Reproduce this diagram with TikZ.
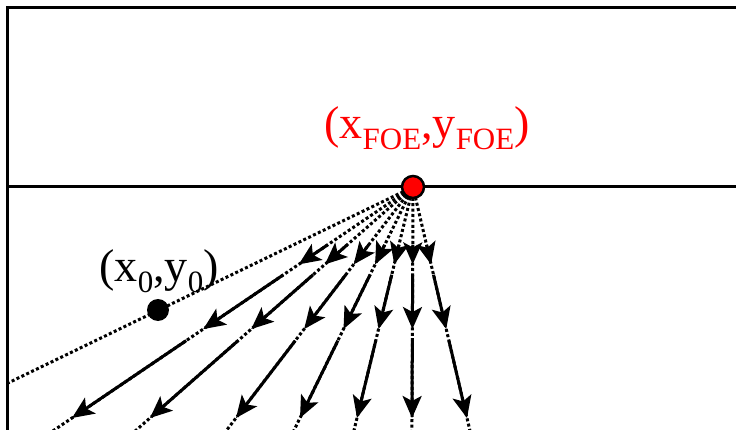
\documentclass[tikz,border=0pt]{standalone}
\usepackage{fontspec}
\setmainfont{Liberation Serif}
\usetikzlibrary{arrows.meta,calc}
\newcommand{\lowsub}[1]{\raisebox{-11pt}{\fontsize{31}{34}\selectfont #1}}
\begin{document}
\begin{tikzpicture}[
    x=1pt, y=-1pt,
    frameline/.style={line width=3pt},
    ray/.style={line width=3pt, dash pattern=on 3pt off 2.4pt},
    flow/.style={-{Stealth[length=22pt, width=19pt, inset=5pt]}, line width=3pt},
    foedot/.style={circle, draw, line width=2.5pt, fill=red, inner sep=0pt, minimum size=22pt},
    ptdot/.style={circle, fill=black, inner sep=0pt, minimum size=22pt},
    lbl/.style={font=\fontsize{46}{50}\selectfont, inner sep=0pt, anchor=base},
]
    \useasboundingbox (0,0) rectangle (736,430);
    \clip (0,0) rectangle (736,430);

    % Image frame and horizon
    \draw[frameline] (7,8) rectangle (800,500);
    \coordinate (hl) at (7,187);
    \coordinate (hr) at (800,187);
    \draw[frameline] (hl) -- (hr);

    % Focus of expansion
    \coordinate (foe) at (413,187);

    % Ray through the tracked point
    \coordinate (edge) at (8,383);
    \draw[ray] (foe) -- (edge);

    % Flow rays with displacement arrows
    \foreach \bx [count=\i] in {-341,-263,-177,-113,-56,-1,54} {
        \coordinate (end\i) at ($(foe)+(\bx,231)$);
        \coordinate (far\i) at ($(foe)!1.12!(end\i)$);
        \coordinate (a\i) at ($(foe)!0.25!(end\i)$);
        \coordinate (b\i) at ($(foe)!0.335!(end\i)$);
        \coordinate (c\i) at ($(foe)!0.38!(end\i)$);
        \coordinate (d\i) at ($(foe)!0.615!(end\i)$);
        \coordinate (e\i) at ($(foe)!0.665!(end\i)$);
        \draw[ray] (foe) -- (far\i);
        \draw[flow] (a\i) -- (b\i);
        \draw[flow] (c\i) -- (d\i);
        \draw[flow] (e\i) -- (end\i);
    }

    \node[foedot] (foedot) at (foe) {};
    \node[ptdot] (p0) at (158,310) {};

    % Labels
    \node[lbl, text=red] (foelbl) at (427,139) {(x\lowsub{FOE},y\lowsub{FOE})};
    \node[lbl] (p0lbl) at (159,282) {(x\lowsub{0},y\lowsub{0})};
\end{tikzpicture}
\end{document}
